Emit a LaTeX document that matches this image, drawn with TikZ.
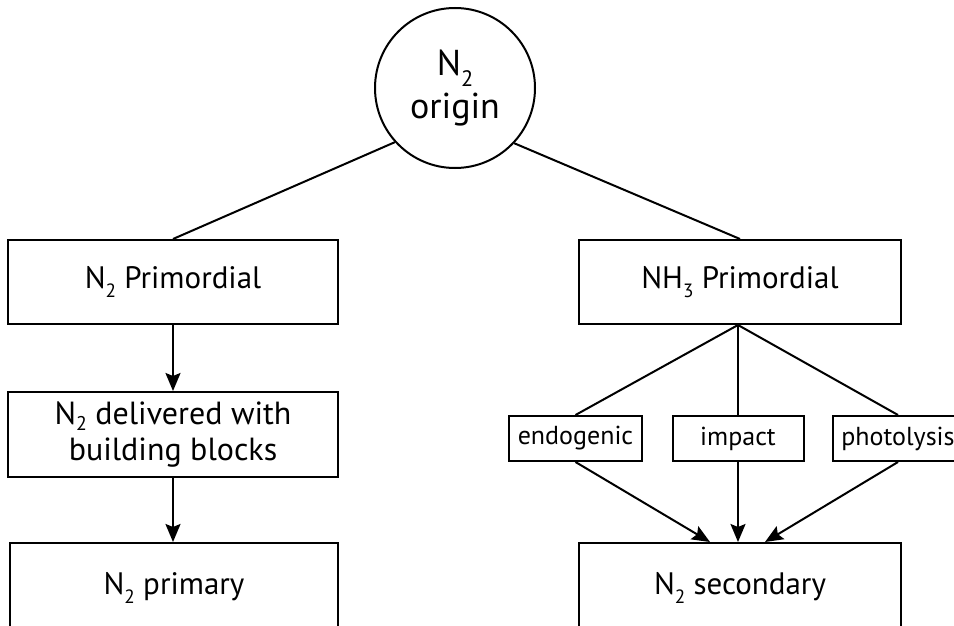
\documentclass[tikz,border=0pt]{standalone}
\usepackage{fontspec}
\setmainfont{PT Sans}
\usetikzlibrary{arrows.meta}
\newcommand\chemsub[1]{\raisebox{-0.3em}{\scalebox{0.62}{#1}}}
\newcommand\chemsubhi[1]{\raisebox{-0.2em}{\scalebox{0.62}{#1}}}
\begin{document}
\begin{tikzpicture}[x=1pt,y=-1pt,
  line width=2pt,
  bigbox/.style={draw, rectangle, minimum width=330pt, minimum height=84pt, inner sep=0pt,
    font=\fontsize{31}{34}\selectfont, align=center},
  smallbox/.style={draw, rectangle, minimum width=132pt, minimum height=45pt, inner sep=0pt,
    font=\fontsize{26}{28}\selectfont},
  arr/.style={-{Stealth[length=18pt,width=15pt,inset=3pt]}}
]
\useasboundingbox (0,0) rectangle (954,626);
\node[draw, circle, minimum size=160pt, inner sep=0pt, align=center,
  font=\fontsize{36}{43}\selectfont] (origin) at (455,88) {N\chemsub{2}\\origin};

\node[bigbox] (prim1) at (173,282) {N\chemsub{2} Primordial};
\node[bigbox, minimum height=85pt, font=\fontsize{32}{36}\selectfont] (deliv) at (173,434.5) {N\chemsubhi{2} delivered with\\building blocks};
\node[bigbox, minimum width=328pt, minimum height=90pt] (primary) at (174,588) {N\chemsub{2} primary};

\node[bigbox, minimum width=322pt] (nh3) at (740,282) {NH\chemsub{3} Primordial};
\node[smallbox, minimum width=133pt] (endo) at (575.5,438.5) {endogenic};
\node[smallbox, minimum width=131pt] (impact) at (738,438.5) {impact};
\node[smallbox, minimum width=131pt] (photo) at (898,438.5) {photolysis};
\node[bigbox, minimum width=322pt, minimum height=90pt] (secondary) at (740,588) {N\chemsub{2} secondary};

\coordinate (fork) at (impact.north |- nh3.south);
\coordinate (tl) at ([xshift=-28pt]impact.south |- secondary.north);
\coordinate (tm) at (impact.south |- secondary.north);
\coordinate (tr) at ([xshift=27pt]impact.south |- secondary.north);

\draw (origin.222.5) -- (prim1.north);
\draw (origin.317.5) -- (nh3.north);
\draw[arr] (prim1.south) -- (deliv.north);
\draw[arr] (deliv.south) -- (primary.north -| deliv.south);
\draw (fork) -- (endo.north);
\draw (fork) -- (impact.north);
\draw (fork) -- (photo.north);
\draw[arr] (endo.south) -- (tl);
\draw[arr] (impact.south) -- (tm);
\draw[arr] (photo.south) -- (tr);
\end{tikzpicture}
\end{document}
